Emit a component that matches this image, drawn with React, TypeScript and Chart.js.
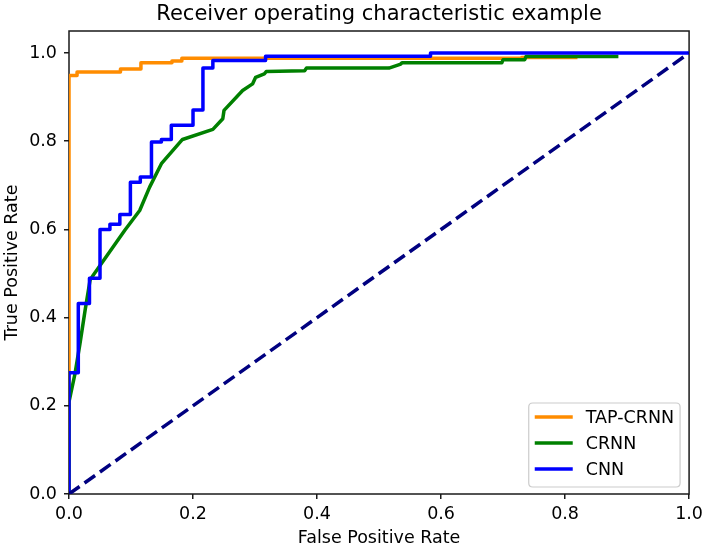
import React, { useEffect, useRef } from 'react';
import { Chart, registerables } from 'chart.js';

Chart.register(...registerables);

const FONT = "'DejaVu Sans', 'Liberation Sans', sans-serif";

const titleText = 'Receiver operating characteristic example';
const xLabel = 'False Positive Rate';
const yLabel = 'True Positive Rate';

const xTicks = [0.0, 0.2, 0.4, 0.6, 0.8, 1.0];
const yTicks = [0.0, 0.2, 0.4, 0.6, 0.8, 1.0];

// TAP-CRNN ROC corner points (step curve)
const fprTap = [0, 0, 0.013, 0.083, 0.116, 0.166, 0.182, 0.73, 0.82];
const tprTap = [0, 0.949, 0.957, 0.964, 0.978, 0.982, 0.988, 0.99, 0.99];

// CRNN ROC points
const fprCrnn = [0, 0, 0.0097, 0.0177, 0.026, 0.034, 0.039, 0.09, 0.114, 0.13, 0.149, 0.183, 0.232, 0.248, 0.25, 0.28, 0.296, 0.301, 0.315, 0.318, 0.38, 0.383, 0.516, 0.535, 0.537, 0.698, 0.7, 0.735, 0.737, 0.886];
const tprCrnn = [0, 0.209, 0.273, 0.341, 0.417, 0.485, 0.496, 0.598, 0.643, 0.696, 0.749, 0.804, 0.827, 0.851, 0.87, 0.915, 0.93, 0.945, 0.953, 0.958, 0.96, 0.966, 0.966, 0.975, 0.978, 0.978, 0.985, 0.985, 0.992, 0.992];

// CNN ROC corner points (step curve)
const fprCnn = [0, 0, 0.015, 0.033, 0.05, 0.066, 0.082, 0.099, 0.115, 0.133, 0.149, 0.165, 0.2, 0.216, 0.232, 0.317, 0.583, 1.0];
const tprCnn = [0, 0.275, 0.432, 0.489, 0.6, 0.612, 0.634, 0.707, 0.719, 0.798, 0.804, 0.836, 0.871, 0.966, 0.983, 0.993, 1.0, 1.0];

// chance diagonal
const fprDiag = [0, 1];
const tprDiag = [0, 1];

const seriesNames = ['TAP-CRNN', 'CRNN', 'CNN'];
const seriesColors = ['#ff8c00', '#008000', '#0000ff'];
const diagColor = '#000080';

const toPts = (xs: number[], ys: number[]) => xs.map((x, i) => ({ x, y: ys[i] }));

const framePlugin = {
  id: 'frame',
  beforeDatasetsDraw(chart: any) {
    const { ctx, chartArea: a } = chart;
    ctx.save();
    ctx.strokeStyle = '#1a1a1a';
    ctx.lineWidth = 1.5;
    ctx.strokeRect(a.left, a.top, a.right - a.left, a.bottom - a.top);
    ctx.restore();
  },
};

const axesTitle = {
  id: 'axesTitle',
  afterDraw(chart: any) {
    const { ctx, chartArea: a } = chart;
    ctx.save();
    ctx.font = `21px ${FONT}`;
    ctx.fillStyle = '#000';
    ctx.textAlign = 'center';
    ctx.textBaseline = 'middle';
    ctx.fillText(titleText, (a.left + a.right) / 2, a.top - 16);
    ctx.restore();
  },
};

const innerLegend = {
  id: 'innerLegend',
  afterDraw(chart: any) {
    const { ctx, chartArea: a } = chart;
    const items = chart.data.datasets.filter((d: any) => seriesNames.includes(d.label));
    items.sort((p: any, q: any) => seriesNames.indexOf(p.label) - seriesNames.indexOf(q.label));
    ctx.save();
    ctx.font = `17.5px ${FONT}`;
    const maxW = Math.max(...items.map((d: any) => ctx.measureText(d.label).width));
    const rowH = 26;
    const padL = 6, lineLen = 38, gap = 13, padR = 6, padT = 14, padB = 18;
    const w = padL + lineLen + gap + maxW + padR;
    const h = padT + rowH * (items.length - 1) + padB;
    const right = a.right - 9;
    const bottom = a.bottom - 7;
    const left = right - w;
    const top = bottom - h;
    const r = 4;
    ctx.beginPath();
    ctx.moveTo(left + r, top);
    ctx.lineTo(right - r, top);
    ctx.quadraticCurveTo(right, top, right, top + r);
    ctx.lineTo(right, bottom - r);
    ctx.quadraticCurveTo(right, bottom, right - r, bottom);
    ctx.lineTo(left + r, bottom);
    ctx.quadraticCurveTo(left, bottom, left, bottom - r);
    ctx.lineTo(left, top + r);
    ctx.quadraticCurveTo(left, top, left + r, top);
    ctx.closePath();
    ctx.fillStyle = 'rgba(255,255,255,0.8)';
    ctx.fill();
    ctx.strokeStyle = '#cccccc';
    ctx.lineWidth = 1.2;
    ctx.stroke();
    items.forEach((d: any, i: number) => {
      const y = top + padT + i * rowH;
      ctx.strokeStyle = d.borderColor;
      ctx.lineWidth = 3.5;
      ctx.beginPath();
      ctx.moveTo(left + padL, y);
      ctx.lineTo(left + padL + lineLen, y);
      ctx.stroke();
      ctx.fillStyle = '#000';
      ctx.textBaseline = 'middle';
      ctx.textAlign = 'left';
      ctx.fillText(d.label, left + padL + lineLen + gap, y + 1);
    });
    ctx.restore();
  },
};

export default function App() {
  const ref = useRef<HTMLCanvasElement | null>(null);

  useEffect(() => {
    if (!ref.current) return;
    const base = { showLine: true, pointRadius: 0, pointHoverRadius: 0, fill: false, borderWidth: 3.5, clip: 0, borderJoinStyle: 'round' as const };
    const chart = new Chart(ref.current, {
      type: 'scatter',
      data: {
        datasets: [
          { ...base, label: seriesNames[0], data: toPts(fprTap, tprTap), borderColor: seriesColors[0], backgroundColor: seriesColors[0], stepped: 'before', order: 3 },
          { ...base, label: seriesNames[1], data: toPts(fprCrnn, tprCrnn), borderColor: seriesColors[1], backgroundColor: seriesColors[1], order: 2 },
          { ...base, label: seriesNames[2], data: toPts(fprCnn, tprCnn), borderColor: seriesColors[2], backgroundColor: seriesColors[2], stepped: 'before', order: 1 },
          { ...base, label: 'chance', data: toPts(fprDiag, tprDiag), borderColor: diagColor, backgroundColor: diagColor, borderDash: [13, 6], borderCapStyle: 'butt', order: 0 },
        ],
      } as any,
      options: {
        responsive: false,
        animation: false,
        devicePixelRatio: 1,
        events: [],
        layout: { padding: { left: 0, right: 17, top: 31, bottom: 0 } },
        plugins: {
          legend: { display: false },
          tooltip: { enabled: false },
          title: { display: false },
        },
        scales: {
          x: {
            type: 'linear',
            min: 0,
            max: 1,
            afterBuildTicks: (s: any) => { s.ticks = xTicks.map((v) => ({ value: v })); },
            afterFit: (s: any) => { s.height = 55; },
            ticks: {
              callback: (v: any) => Number(v).toFixed(1),
              color: '#000',
              font: { family: FONT, size: 17.5 },
              padding: 5,
              maxRotation: 0,
              autoSkip: false,
            },
            grid: { drawOnChartArea: false, drawTicks: true, tickLength: 5, color: '#1a1a1a', lineWidth: 1.5 },
            border: { display: false },
            title: { display: true, text: xLabel, color: '#000', font: { family: FONT, size: 17.5 }, padding: { top: 0, bottom: 0 } },
          },
          y: {
            type: 'linear',
            min: 0,
            max: 1.05,
            afterBuildTicks: (s: any) => { s.ticks = yTicks.map((v) => ({ value: v })); },
            afterFit: (s: any) => { s.width = 69; },
            ticks: {
              callback: (v: any) => Number(v).toFixed(1),
              color: '#000',
              font: { family: FONT, size: 17.5 },
              padding: 7,
              autoSkip: false,
            },
            grid: { drawOnChartArea: false, drawTicks: true, tickLength: 5, color: '#1a1a1a', lineWidth: 1.5 },
            border: { display: false },
            title: { display: true, text: yLabel, color: '#000', font: { family: FONT, size: 17.5 }, padding: { top: 1.5, bottom: 0 } },
          },
        },
      } as any,
      plugins: [framePlugin, axesTitle, innerLegend],
    });
    return () => chart.destroy();
  }, []);

  return (
    <div style={{ position: 'fixed', left: 0, top: 0, width: 708, height: 549, background: '#fff' }}>
      <canvas ref={ref} width={708} height={549} style={{ display: 'block' }} />
    </div>
  );
}
